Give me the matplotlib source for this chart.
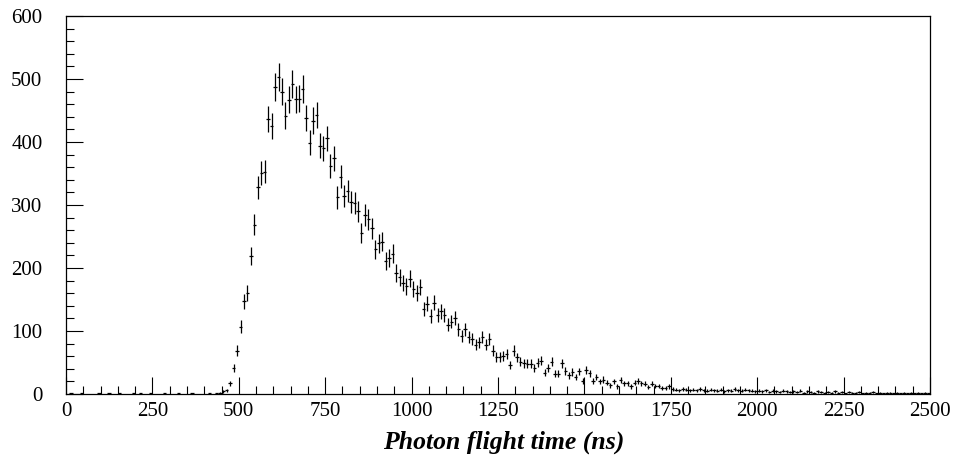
import numpy as np
import matplotlib
matplotlib.use("Agg")
import matplotlib.pyplot as plt
from matplotlib.ticker import MultipleLocator

plt.rcParams["font.family"] = ["Liberation Serif", "DejaVu Serif"]

# histogram of photon flight times, 10 ns bins from 0 to 2500 ns
bin_width = 10
bin_centers = np.arange(5, 2500, bin_width)

counts_early = [0, 1, 0, 0, 1, 0, 0, 0, 0, 1, 0, 0, 1, 0, 0, 1, 0, 0, 0, 1,
                0, 1, 0, 0, 1, 0, 0, 0, 1, 0, 0, 0, 1, 0, 0, 0, 1, 0, 0, 0,
                0, 1, 0, 1, 2]
counts_rise = [4, 6, 17, 41, 69, 107, 147, 161, 219, 269]
counts_peak = [328, 351, 353, 437, 425, 487, 503, 480, 442, 467, 492, 468,
               469, 484, 438, 399, 434, 443, 394]
counts_fall = [390, 406, 362, 374, 312, 345, 314, 322, 305, 303, 290, 256,
               284, 277, 263, 230, 239]
counts_mid = [242, 211, 216, 223, 192, 185, 176, 171, 183, 167, 160, 170,
              135, 143, 124, 145]
counts_tail1 = [126, 131, 125, 110, 115, 121, 103, 92, 103, 90, 87, 78, 82,
                90, 78, 87, 69, 59, 59, 60, 64, 46, 69, 58, 51, 49, 48]
counts_tail2 = [48, 41, 50, 53, 34, 41, 51, 32, 32, 49, 37, 30, 35, 27, 36,
                21, 38, 33, 21, 27, 20]
counts_tail3 = [23, 18, 14, 20, 12, 22, 17, 17, 12, 18, 21, 17, 16, 11, 16,
                13, 13, 10, 9, 12, 8, 7, 6, 8, 7, 6, 7]
counts_tail4 = [6, 8, 6, 5, 7, 6, 5, 7, 4, 6, 5, 8, 6, 5, 7, 6, 5, 4]
counts_tail5 = [5, 4, 6, 3, 5, 4, 3, 5, 4, 3, 4, 3, 5, 2, 4, 3, 2, 4, 3, 2,
                3, 2, 4, 2, 3, 1, 3, 2, 2, 3, 1, 2, 2, 3, 1, 2, 1, 2, 2, 1,
                2, 1, 2, 1, 2, 1, 2, 1, 2, 1]

counts = np.array(counts_early + counts_rise + counts_peak + counts_fall
                  + counts_mid + counts_tail1 + counts_tail2 + counts_tail3
                  + counts_tail4 + counts_tail5, dtype=float)

fig = plt.figure(figsize=(9.56, 4.58), dpi=100)
ax = fig.add_axes([66 / 956, 1 - 394 / 458, 864 / 956, 378 / 458])

nz = counts > 0
ax.errorbar(bin_centers[nz], counts[nz], yerr=np.sqrt(counts[nz]),
            xerr=bin_width / 2, fmt="none", ecolor="black",
            elinewidth=0.9, capsize=0)

ax.set_xlim(0, 2500)
ax.set_ylim(0, 600)
ax.xaxis.set_major_locator(MultipleLocator(250))
ax.xaxis.set_minor_locator(MultipleLocator(50))
ax.yaxis.set_major_locator(MultipleLocator(100))
ax.yaxis.set_minor_locator(MultipleLocator(20))
ax.tick_params(which="both", direction="in", top=False, right=False,
               width=0.8, labelsize=15)
ax.tick_params(which="major", length=12)
ax.tick_params(which="minor", length=6)
ax.tick_params(axis="y", pad=17)
ax.tick_params(axis="x", pad=6)
for s in ax.spines.values():
    s.set_linewidth(0.9)

ax.set_xlabel("Photon flight time (ns)", fontsize=18.5, fontweight="bold",
              fontstyle="italic")
ax.xaxis.set_label_coords(0.507, -0.098)

fig.savefig("out.png", dpi=100)
